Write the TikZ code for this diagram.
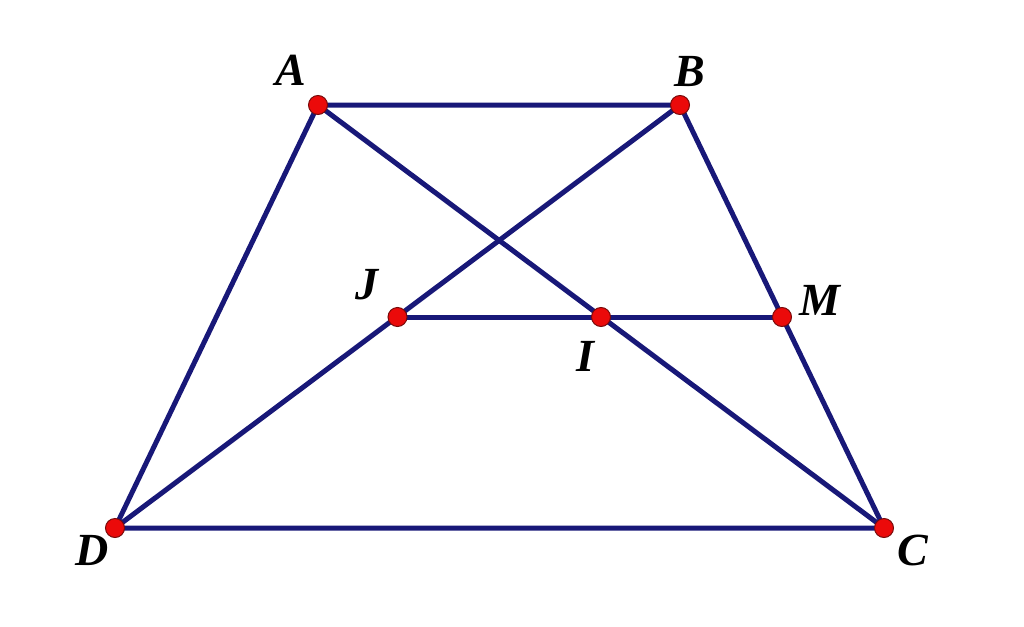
\documentclass[tikz,border=0pt]{standalone}
\usepackage{fontspec}
\setmainfont{Liberation Serif}
\definecolor{seg}{RGB}{24,24,120}
\definecolor{ptred}{RGB}{235,10,10}
\definecolor{ptedge}{RGB}{120,10,10}
\tikzset{
  seg/.style={draw=seg, line width=5pt},
  pt/.style={circle, fill=ptred, draw=ptedge, line width=1pt, minimum size=19pt, inner sep=0pt},
  lab/.style={font=\fontsize{46}{46}\selectfont\bfseries\itshape, inner sep=0pt}
}
\begin{document}
\begin{tikzpicture}[x=1pt,y=-1pt]
\useasboundingbox (0,0) rectangle (1024,626);
\coordinate (A) at (318,105);
\coordinate (B) at (680,105);
\coordinate (C) at (884,528);
\coordinate (D) at (115,528);
\coordinate (J) at (397.5,317);
\coordinate (I) at (601,317);
\coordinate (M) at (782,317);
\draw[seg] (A) -- (B) -- (C) -- (D) -- cycle;
\draw[seg] (A) -- (C);
\draw[seg] (B) -- (D);
\draw[seg] (J) -- (M);
\foreach \p in {A,B,C,D,J,I,M} \node[pt] (p\p) at (\p) {};
\node[lab] (lA) at (291,70) {A};
\node[lab] (lB) at (690,72) {B};
\node[lab] (lJ) at (367,285) {J};
\node[lab] (lM) at (820,300) {M};
\node[lab] (lI) at (585,356) {I};
\node[lab] (lD) at (92,550) {D};
\node[lab] (lC) at (913,550) {C};
\end{tikzpicture}
\end{document}
